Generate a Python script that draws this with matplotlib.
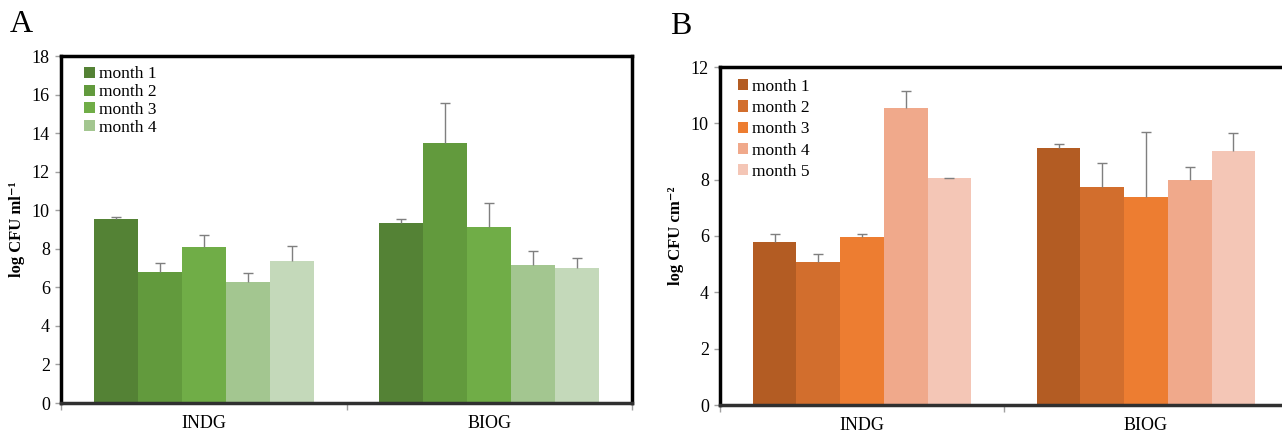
import matplotlib
matplotlib.use("Agg")
import matplotlib.pyplot as plt
from matplotlib.patches import Patch
import numpy as np

plt.rcParams['font.family'] = ['Liberation Serif', 'DejaVu Serif']

categories = ["INDG", "BIOG"]

# Panel A
a_labels = ["month 1", "month 2", "month 3", "month 4", "month 5"]
a_values = [
    [9.53, 9.33],
    [6.79, 13.51],
    [8.08, 9.12],
    [6.30, 7.15],
    [7.39, 7.00],
]
a_err = [
    [0.14, 0.22],
    [0.46, 2.07],
    [0.61, 1.26],
    [0.44, 0.71],
    [0.73, 0.53],
]
a_colors = ["#548235", "#629A3D", "#70AD47", "#A3C690", "#C4D9BA"]
a_legend_n = 4
a_ylabel = "log CFU ml\u207b\u00b9"
a_yticks = [0, 2, 4, 6, 8, 10, 12, 14, 16, 18]

# Panel B
b_labels = ["month 1", "month 2", "month 3", "month 4", "month 5"]
b_values = [
    [5.80, 9.12],
    [5.08, 7.73],
    [5.98, 7.38],
    [10.53, 8.00],
    [8.05, 9.01],
]
b_err = [
    [0.26, 0.13],
    [0.29, 0.87],
    [0.08, 2.32],
    [0.63, 0.44],
    [0.01, 0.64],
]
b_colors = ["#B35C23", "#D26E2D", "#ED7D31", "#F0A98B", "#F4C6B6"]
b_legend_n = 5
b_ylabel = "log CFU cm\u207b\u00b2"
b_yticks = [0, 2, 4, 6, 8, 10, 12]

W, H = 1282, 433
fig = plt.figure(figsize=(W / 100, H / 100), dpi=100)


def panel(rect, values, errs, colors, labels, nleg, ylabel, yticks, letter,
          letter_xy, leg_anchor, leg_spacing):
    ax = fig.add_axes(rect)
    n = len(values)
    group = 0.77
    bw = group / n
    x = np.arange(len(categories))
    for i in range(n):
        pos = x - group / 2 + bw * (i + 0.5)
        vals = np.array(values[i])
        e = np.array(errs[i])
        ax.bar(pos, vals, width=bw, color=colors[i], edgecolor='none',
               zorder=2)
        ax.vlines(pos, vals, vals + e, colors='#7f7f7f', linewidth=1.0,
                  zorder=3)
        ax.plot(pos, vals + e, linestyle='none', marker='_', markersize=7,
                markeredgewidth=1.0, color='#7f7f7f', zorder=3)
    ax.set_xlim(-0.5, len(categories) - 0.5)
    ax.set_ylim(yticks[0], yticks[-1])
    ax.set_yticks(yticks)
    ax.set_xticks(x)
    ax.set_xticklabels(categories)
    ax.set_xticks(np.arange(len(categories) + 1) - 0.5, minor=True)
    ax.tick_params(axis='x', which='major', length=0, labelsize=13, pad=9)
    ax.tick_params(axis='x', which='minor', length=5, color='#a0a0a0',
                   direction='out', width=1)
    ax.tick_params(axis='y', length=4, color='#a0a0a0', width=1,
                   labelsize=13, pad=4)
    for s in ['top', 'right', 'left']:
        ax.spines[s].set_linewidth(2.5)
        ax.spines[s].set_color('black')
    ax.spines['bottom'].set_linewidth(2.5)
    ax.spines['bottom'].set_color('#303030')
    ax.set_ylabel(ylabel, fontsize=12, fontweight='bold', labelpad=5)
    handles = [Patch(facecolor=colors[i], edgecolor='none') for i in range(nleg)]
    ax.legend(handles, labels[:nleg], loc='upper left',
              bbox_to_anchor=leg_anchor, frameon=False, fontsize=12.5,
              handlelength=0.6, handleheight=0.6, handletextpad=0.25,
              labelspacing=leg_spacing, borderpad=0.2, borderaxespad=0.0)
    fig.text(letter_xy[0], letter_xy[1], letter, fontsize=23, ha='left',
             va='top')
    return ax


panel([61 / W, 1 - 403 / H, (632 - 61) / W, (403 - 56) / H],
      a_values, a_err, a_colors, a_labels, a_legend_n, a_ylabel, a_yticks,
      "A", (10 / W, 1 - 10 / H), (0.035, 0.98), 0.1)
panel([720 / W, 1 - 405 / H, (1288 - 720) / W, (405 - 67) / H],
      b_values, b_err, b_colors, b_labels, b_legend_n, b_ylabel, b_yticks,
      "B", (670 / W, 1 - 12 / H), (0.025, 0.975), 0.3)

fig.savefig("out.png", dpi=100)
